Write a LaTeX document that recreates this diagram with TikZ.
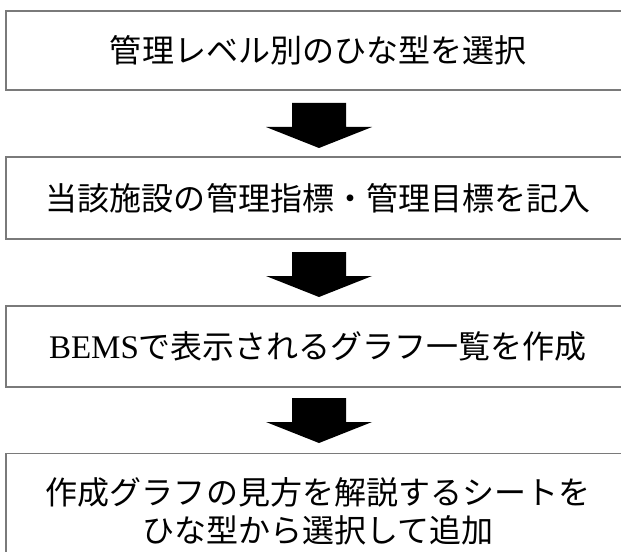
\documentclass[tikz,border=0pt]{standalone}
\usepackage{fontspec}
\setmainfont{Liberation Serif}
\newfontfamily\jp{Noto Sans CJK JP}
\definecolor{edgegray}{HTML}{7A7A7A}
\tikzset{
  stepbox/.style={draw=edgegray, line width=1.3bp, rectangle, inner sep=0pt,
    minimum width=624bp, font=\jp\fontsize{32bp}{38bp}\selectfont, align=center},
  downarrow/.pic={\fill[black] (-27,0) -- (27,0) -- (27,24) -- (53,24) -- (0,45) -- (-53,24) -- (-27,24) -- cycle;}
}
\begin{document}
\begin{tikzpicture}[x=1bp,y=-1bp]
  \useasboundingbox (0,0) rectangle (621,552);
  \clip (0,0) rectangle (621,552);
  \fill[white] (0,0) rectangle (621,552);
  \node[stepbox, minimum height=79bp] (b1) at (318,50.5) {管理レベル別のひな型を選択};
  \node[stepbox, minimum height=82bp] (b2) at (318,198) {当該施設の管理指標・管理目標を記入};
  \node[stepbox, minimum height=81bp] (b3) at (318,346.5) {{\rmfamily\fontsize{33bp}{38bp}\selectfont BEMS}で表示されるグラフ一覧を作成};
  \node[stepbox, minimum height=200bp, anchor=north] (b4) at (318,453) {};
  \node[font=\jp\fontsize{32bp}{38bp}\selectfont, align=center] (t4) at (318,511) {作成グラフの見方を解説するシートを\\ひな型から選択して追加};
  \pic at (319,103) {downarrow};
  \pic at (319,252) {downarrow};
  \pic at (319,398) {downarrow};
\end{tikzpicture}
\end{document}
